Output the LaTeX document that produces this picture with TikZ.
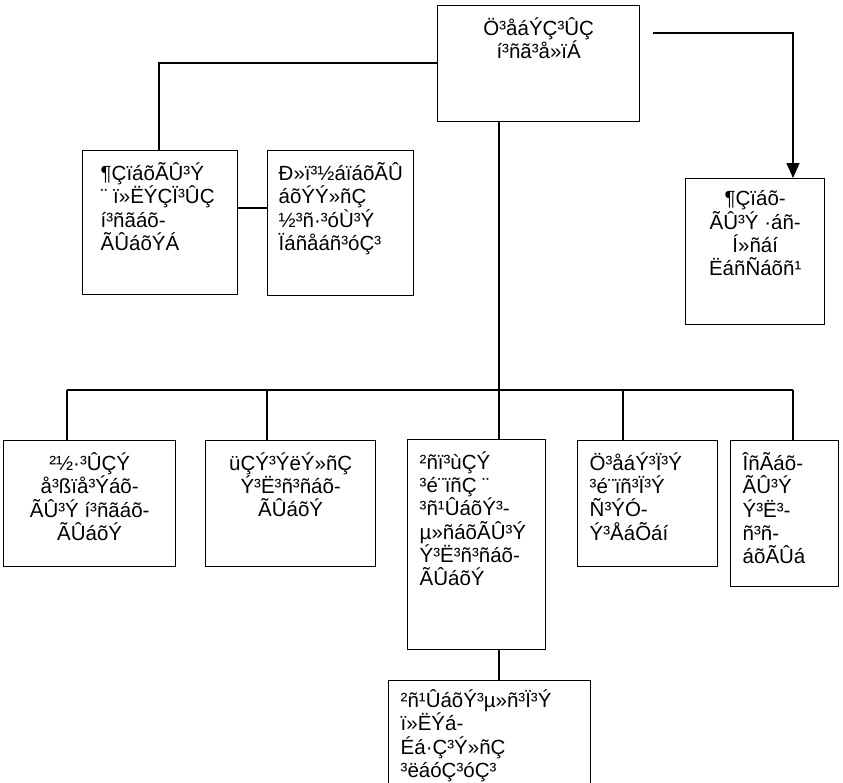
\documentclass[tikz,border=0pt]{standalone}
\usepackage{fontspec}
\setmainfont{Liberation Sans}
\usetikzlibrary{arrows.meta}

\tikzset{
  cell/.style={draw, line width=1.4pt, anchor=north west, inner xsep=12pt, inner ysep=12pt},
  link/.style={line width=1.4pt},
}
\newcommand{\celltext}[3]{\begin{minipage}[c][#2][t]{#1}\fontsize{20.5}{23.2}\selectfont#3\end{minipage}}

\begin{document}
\begin{tikzpicture}[x=1pt,y=-1pt]
\useasboundingbox (0,0) rectangle (843,782);
\begin{scope}
\clip (0,0) rectangle (843,782);

% top
\node[cell] (head) at (437,5) {\celltext{178pt}{92pt}{\centering Ö³åáÝÇ³ÛÇ\\ í³ñã³å»ïÁ}};

% left branch
\node[cell, inner xsep=18pt] (lbox) at (82,150) {\celltext{119pt}{120pt}{\raggedright ¶ÇïáõÃÛ³Ý\\ ¨ ï»ËÝÇÏ³ÛÇ\\ í³ñãáõ-\\ ÃÛáõÝÁ}};
\node[cell, inner xsep=11pt] (mbox) at (267,150) {\celltext{124pt}{121pt}{\raggedright Ð»ï³½áïáõÃÛ\\ áõÝÝ»ñÇ\\ ½³ñ·³óÙ³Ý\\ Ïáñåáñ³óÇ³}};

% right branch
\node[cell] (rbox) at (685,178) {\celltext{115pt}{122pt}{\centering ¶Çïáõ-\\ ÃÛ³Ý ·áñ-\\ Í»ñáí\\ ËáñÑáõñ¹}};

% lower row
\node[cell] (sub1) at (3,440) {\celltext{148pt}{102pt}{\centering ²½·³ÛÇÝ\\ å³ßïå³Ýáõ-\\ ÃÛ³Ý í³ñãáõ-\\ ÃÛáõÝ}};
\node[cell] (sub2) at (205,440) {\celltext{146pt}{102pt}{\centering üÇÝ³ÝëÝ»ñÇ\\ Ý³Ë³ñ³ñáõ-\\ ÃÛáõÝ}};
\node[cell] (sub3) at (407,439) {\celltext{114pt}{186pt}{\raggedright ²ñï³ùÇÝ\\ ³é¨ïñÇ ¨\\ ³ñ¹ÛáõÝ³-\\ µ»ñáõÃÛ³Ý\\ Ý³Ë³ñ³ñáõ-\\ ÃÛáõÝ}};
\node[cell] (sub4) at (577,440) {\celltext{116pt}{102pt}{\raggedright Ö³åáÝ³Ï³Ý\\ ³é¨ïñ³Ï³Ý\\ Ñ³ÝÓ-\\ Ý³ÅáÕáí}};
\node[cell] (sub5) at (730,440) {\celltext{84pt}{122pt}{\raggedright ÎñÃáõ-\\ ÃÛ³Ý\\ Ý³Ë³-\\ ñ³ñ-\\ áõÃÛá}};
\node[cell, inner ysep=9pt] (sub6) at (388,680) {\celltext{178pt}{100pt}{\raggedright ²ñ¹ÛáõÝ³µ»ñ³Ï³Ý\\ ï»ËÝá-\\ Éá·Ç³Ý»ñÇ\\ ³ëáóÇ³óÇ³}};

\coordinate (bus) at (499,390);
\coordinate (arrowstart) at (653,33);

% connectors
\draw[link] (head.west |- 0,63) -| (lbox.north -| 159,0);
\draw[link] (lbox.east |- 0,208) -- (mbox.west |- 0,208);
\draw[link, -{Triangle[width=13pt,length=15pt]}] (arrowstart) -| (rbox.north -| 793,0);
\draw[link] (head.south -| bus) -- (bus);
\draw[link] (67,390) -- (793,390);
\foreach \x/\n in {67/sub1,267/sub2,499/sub3,623/sub4,793/sub5} {
\draw[link] (\x,390) -- (\n.north -| \x,0);
}
\draw[link] (sub3.south -| bus) -- (sub6.north -| bus);
\end{scope}
\end{tikzpicture}
\end{document}
